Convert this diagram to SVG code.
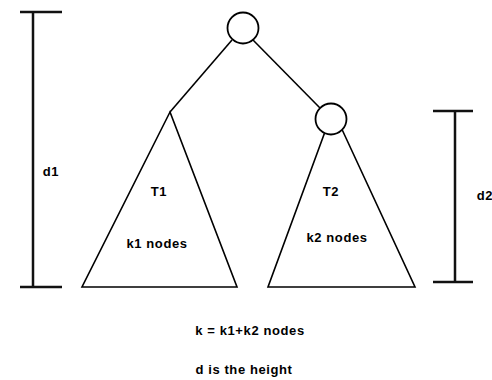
<svg xmlns="http://www.w3.org/2000/svg" width="492" height="380" viewBox="0 0 492 380">
<style>
.ln{stroke:#000;stroke-width:1.6;fill:none}
.br{stroke:#111;stroke-width:2.5;fill:none}
.nd{stroke:#000;stroke-width:1.8;fill:#fff}
text{font-family:"Liberation Sans",Arial,sans-serif;font-size:13px;font-weight:bold;fill:#000;text-anchor:middle;letter-spacing:0.6px}
</style>
<rect width="492" height="380" fill="#fff"/>
<g id="connectors">
<line class="ln" x1="232" y1="40" x2="170" y2="112"/>
<line class="ln" x1="253" y1="40" x2="320" y2="108"/>
</g>
<g id="T1">
<polygon class="ln" points="170,112 82,287 237,287"/>
<text x="159" y="196">T1</text>
<text x="157" y="248">k1 nodes</text>
</g>
<g id="T2">
<polygon class="ln" points="333,110 268,287 415,287"/>
<text x="331" y="196">T2</text>
<text x="337" y="242">k2 nodes</text>
</g>
<g id="root"><circle class="nd" cx="243" cy="28" r="15.5"/></g>
<g id="child"><circle class="nd" cx="331" cy="119" r="15.5"/></g>
<g id="d1">
<path class="br" d="M20,12H62M33,12V287M20,287H62"/>
<text x="51" y="176">d1</text>
</g>
<g id="d2">
<path class="br" d="M433,111H473M455,111V282M433,282H473"/>
<text x="485" y="200">d2</text>
</g>
<g id="caption">
<text x="250" y="335">k = k1+k2 nodes</text>
<text x="244" y="374">d is the height</text>
</g>
</svg>
